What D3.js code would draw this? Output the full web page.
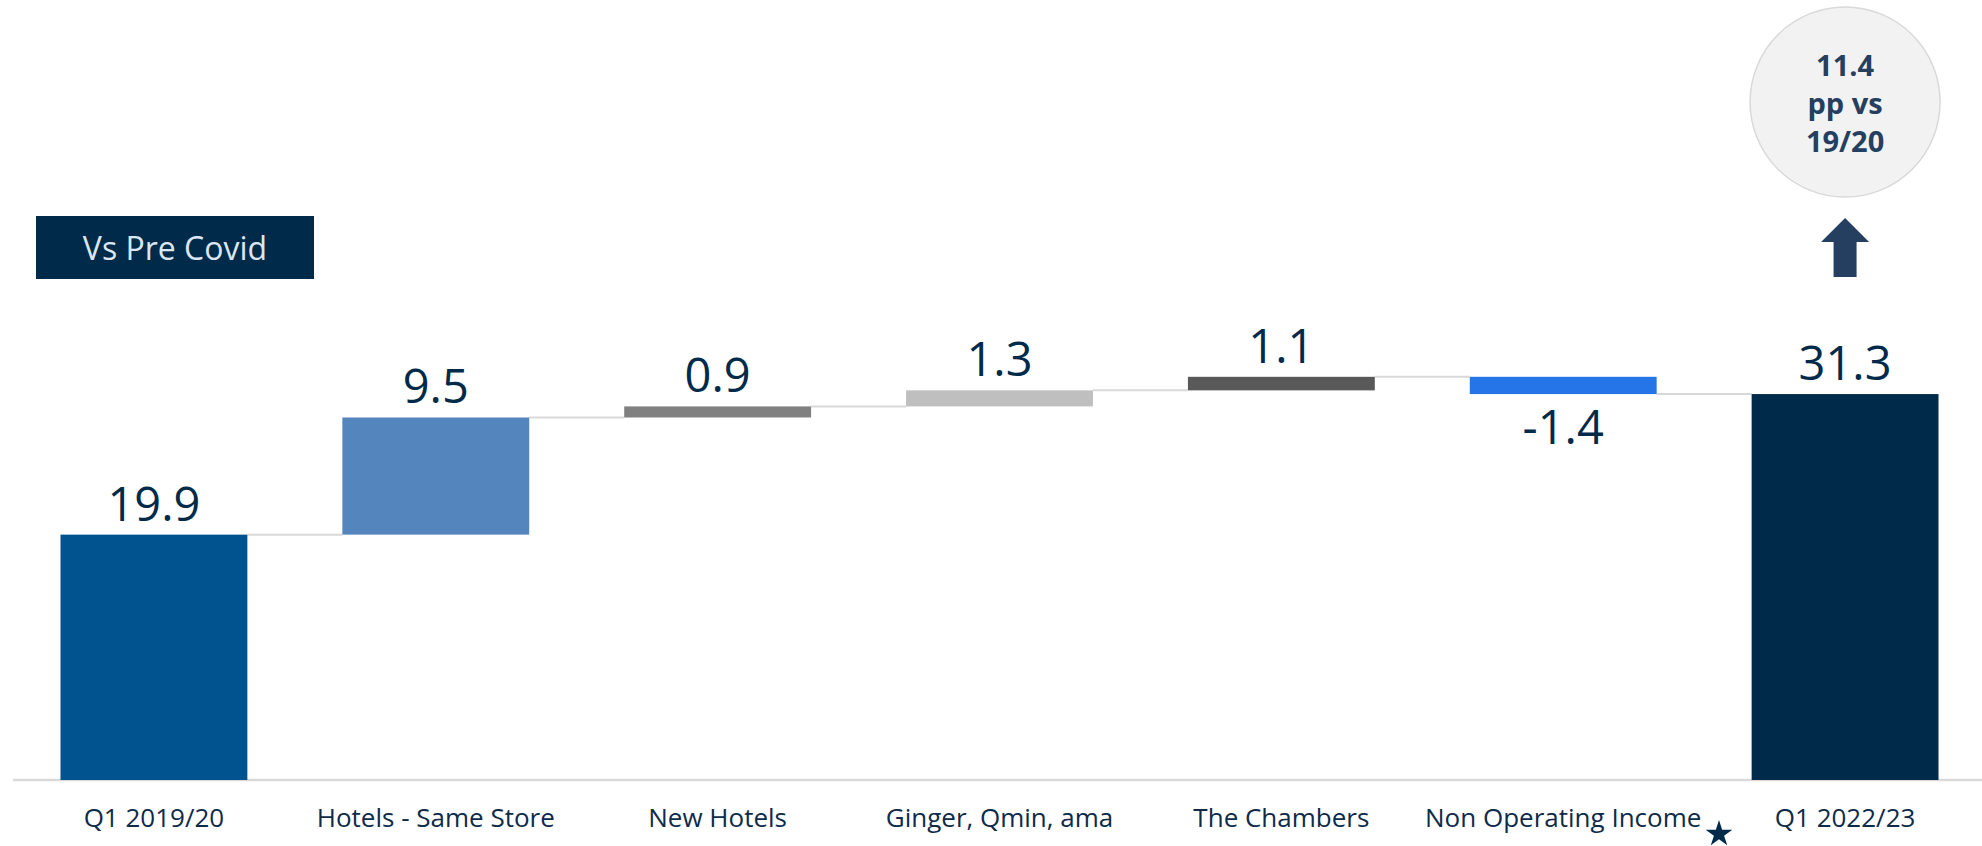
<!DOCTYPE html>
<html>
<head>
<meta charset="utf-8">
<script src="https://cdn.jsdelivr.net/npm/d3@7"></script>
<style>
  html, body { margin: 0; padding: 0; background: #ffffff; }
  svg { display: block; }
</style>
</head>
<body>
<svg id="chart" width="1982" height="846"></svg>
<script>
// Waterfall: bridge from Q1 2019/20 to Q1 2022/23
const categories = ["Q1 2019/20", "Hotels - Same Store", "New Hotels", "Ginger, Qmin, ama", "The Chambers", "Non Operating Income", "Q1 2022/23"];
const values = [19.9, 9.5, 0.9, 1.3, 1.1, -1.4, 31.3];
const isTotal = [true, false, false, false, false, false, true];
const valueLabels = ["19.9", "9.5", "0.9", "1.3", "1.1", "-1.4", "31.3"];
const badgeLines = ["11.4", "pp vs", "19/20"];
const tagText = "Vs Pre Covid";

const barColors = ["#00538f", "#5585bd", "#808080", "#bfbfbf", "#595959", "#2575e8", "#002a4a"];
const navy = "#002a4a";
const textNavy = "#0e2b4a";

const svg = d3.select("#chart");
const W = 1982, H = 846;
const baseY = 780;

const x = d3.scaleBand()
  .domain(categories)
  .range([13, 1986])
  .paddingInner(0.337)
  .paddingOuter(0.1685);

const y = d3.scaleLinear()
  .domain([0, 35])
  .range([baseY, baseY - 35 * 12.33]);

const color = d3.scaleOrdinal(categories, barColors);

// running totals -> floating segments
let running = 0;
const rows = categories.map((c, i) => {
  let start, end;
  if (isTotal[i]) { start = 0; end = values[i]; running = values[i]; }
  else { start = running; end = running + values[i]; running = end; }
  return { cat: c, value: values[i], start, end, label: valueLabels[i], total: isTotal[i] };
});

// baseline
svg.append("line")
  .attr("x1", 13).attr("x2", W)
  .attr("y1", baseY).attr("y2", baseY)
  .attr("stroke", "#d9d9d9").attr("stroke-width", 2.5);

// connectors between consecutive bars
const links = rows.slice(0, -1).map((r, i) => ({ from: r, to: rows[i + 1], level: r.end }));
svg.append("g").selectAll("line")
  .data(links)
  .join("line")
  .attr("x1", d => x(d.from.cat) + x.bandwidth())
  .attr("x2", d => x(d.to.cat))
  .attr("y1", d => y(d.level))
  .attr("y2", d => y(d.level))
  .attr("stroke", "#d9d9d9")
  .attr("stroke-width", 2);

// bars
svg.append("g").selectAll("rect")
  .data(rows)
  .join("rect")
  .attr("x", d => x(d.cat))
  .attr("width", x.bandwidth())
  .attr("y", d => y(Math.max(d.start, d.end)))
  .attr("height", d => Math.abs(y(d.start) - y(d.end)))
  .attr("fill", d => color(d.cat));

// value labels
svg.append("g").selectAll("text")
  .data(rows)
  .join("text")
  .attr("x", d => x(d.cat) + x.bandwidth() / 2)
  .attr("y", d => d.value >= 0 ? y(Math.max(d.start, d.end)) - 14 : y(Math.min(d.start, d.end)) + 50)
  .attr("text-anchor", "middle")
  .attr("font-family", "'Open Sans', sans-serif")
  .attr("font-size", 47)
  .attr("fill", navy)
  .text(d => d.label);

// category axis labels
const xAxis = d3.axisBottom(x).tickSize(0).tickPadding(0);
const axisG = svg.append("g")
  .attr("transform", `translate(0, ${baseY})`)
  .call(xAxis);
axisG.select(".domain").remove();
axisG.selectAll("text")
  .attr("dy", 0)
  .attr("y", 47)
  .attr("font-family", "'Open Sans', sans-serif")
  .attr("font-size", 26)
  .attr("fill", textNavy);

// footnote star after "Non Operating Income"
svg.append("path")
  .attr("d", d3.symbol(d3.symbolStar, 220)())
  .attr("transform", `translate(1719, 834)`)
  .attr("fill", navy);

// "Vs Pre Covid" tag
const tag = svg.append("g");
tag.append("rect")
  .attr("x", 36).attr("y", 216)
  .attr("width", 278).attr("height", 63)
  .attr("fill", navy);
tag.append("text")
  .attr("x", 175).attr("y", 260)
  .attr("text-anchor", "middle")
  .attr("font-family", "'Open Sans', sans-serif")
  .attr("font-size", 32)
  .attr("fill", "#dce6f2")
  .text(tagText);

// change badge above final bar
const lastCat = categories[categories.length - 1];
const cx = x(lastCat) + x.bandwidth() / 2;
const badge = svg.append("g");
badge.append("circle")
  .attr("cx", cx).attr("cy", 102).attr("r", 95)
  .attr("fill", "#f2f2f2")
  .attr("stroke", "#d9d9d9")
  .attr("stroke-width", 1.5);
badge.selectAll("text")
  .data(badgeLines)
  .join("text")
  .attr("x", cx)
  .attr("y", (d, i) => 76 + i * 38)
  .attr("text-anchor", "middle")
  .attr("font-family", "'Open Sans', sans-serif")
  .attr("font-weight", 700)
  .attr("font-size", 29)
  .attr("fill", "#243f60")
  .text(d => d);

// upward arrow
const arrow = d3.path();
arrow.moveTo(cx, 218);
arrow.lineTo(cx + 24, 242);
arrow.lineTo(cx + 11.5, 242);
arrow.lineTo(cx + 11.5, 277);
arrow.lineTo(cx - 11.5, 277);
arrow.lineTo(cx - 11.5, 242);
arrow.lineTo(cx - 24, 242);
arrow.closePath();
svg.append("path")
  .attr("d", arrow.toString())
  .attr("fill", "#243f60");
</script>
</body>
</html>
